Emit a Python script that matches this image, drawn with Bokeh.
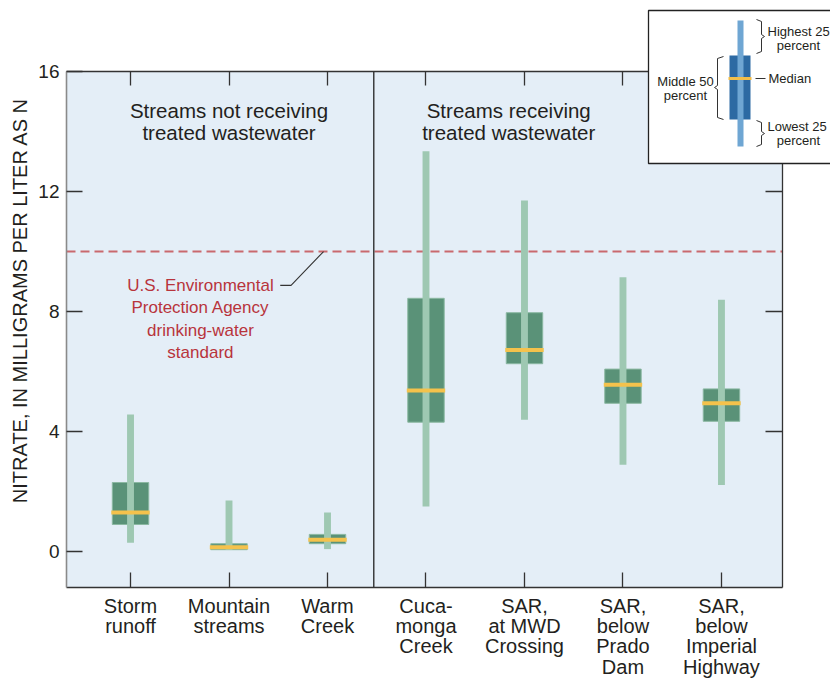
import numpy as np
from bokeh.plotting import figure
from bokeh.models import (ColumnDataSource, FixedTicker, LinearAxis, Label,
                          BoxAnnotation, Arrow, Range1d)
from bokeh.embed import file_html
from bokeh.resources import INLINE

# ---------------- data ----------------
categories = ["Storm\nrunoff", "Mountain\nstreams", "Warm\nCreek",
              "Cuca-\nmonga\nCreek", "SAR,\nat MWD\nCrossing",
              "SAR,\nbelow\nPrado\nDam", "SAR,\nbelow\nImperial\nHighway"]
x_pos = [1, 2, 3, 4, 5, 6, 7]
whisker_low = [0.29, 0.05, 0.08, 1.50, 4.39, 2.89, 2.22]
q1 = [0.90, 0.06, 0.26, 4.31, 6.26, 4.94, 4.34]
median = [1.30, 0.14, 0.39, 5.37, 6.72, 5.56, 4.94]
q3 = [2.30, 0.26, 0.57, 8.44, 7.96, 6.08, 5.42]
whisker_high = [4.57, 1.70, 1.30, 13.34, 11.70, 9.14, 8.39]
y_ticks = [0, 4, 8, 12, 16]
right_ticks = [4, 8, 12]
standard_value = 10
group_titles = [["Streams not receiving", "treated wastewater"],
                ["Streams receiving", "treated wastewater"]]
standard_text = ["U.S. Environmental", "Protection Agency", "drinking-water", "standard"]
y_label = "NITRATE, IN MILLIGRAMS PER LITER AS N"

# ---------------- layout (data units of the plot box) ----------------
X0, X1 = 0.35, 7.62      # plot box left / right
Y0, Y1 = -1.2, 16.0      # plot box bottom / top
divider_x = 3.47
group_title_x = [2.0, 4.84]
W, H = 830, 683

# ---------------- style ----------------
BG = "#E4EEF7"
BOX = "#5A9278"
BOX_EDGE = "#8BB8A2"
WHISK = "#9EC8B2"
MED = "#F4C24C"
RED = "#C9696E"
RED_TXT = "#B8343C"
INK = "#231F20"
FONT = "Liberation Sans"


def sx(px):
    return px


def sy(py):
    return H - py


p = figure(width=W, height=H, x_range=Range1d(-0.3201, 8.107), y_range=Range1d(-4.4, 18.367),
           x_axis_type=None, y_axis_type=None, output_backend="svg", toolbar_location=None,
           min_border=0)
p.background_fill_color = "white"
p.border_fill_color = "white"
p.outline_line_color = None

# plot box background
p.add_layout(BoxAnnotation(left=X0, right=X1, bottom=Y0, top=Y1, fill_color=BG, fill_alpha=1,
                           line_color=None, level="underlay"))

# axes drawn at the plot-box edges (ticks inside)
bottom = LinearAxis(ticker=FixedTicker(ticks=x_pos),
                    major_label_overrides={x: c for x, c in zip(x_pos, categories)})
top = LinearAxis(ticker=FixedTicker(ticks=x_pos), major_label_overrides={x: "" for x in x_pos})
left = LinearAxis(ticker=FixedTicker(ticks=y_ticks))
right = LinearAxis(ticker=FixedTicker(ticks=right_ticks),
                   major_label_overrides={t: "" for t in right_ticks})
bottom.fixed_location = Y0
top.fixed_location = Y1
left.fixed_location = X0
right.fixed_location = X1
for ax in (bottom, top):
    ax.bounds = (X0, X1)
for ax in (left, right):
    ax.bounds = (Y0, Y1)
for ax, tin in ((bottom, 15), (top, 14), (left, 16), (right, 17)):
    ax.major_tick_in = tin
    ax.major_tick_out = 0
    ax.minor_tick_line_color = None
    ax.axis_line_color = "#333333"
    ax.axis_line_width = 1.3
    ax.major_tick_line_color = "#333333"
    ax.major_tick_line_width = 1.3
    ax.major_label_text_font = FONT
    ax.major_label_text_color = INK
left.axis_line_color = "#8a8a8a"
left.axis_line_width = 1.6
left.major_label_text_font_size = "19px"
left.major_label_standoff = 7
bottom.major_label_text_font_size = "20px"
bottom.major_label_text_line_height = 0.93
bottom.major_label_standoff = 7
for ax in (top, right):
    ax.major_label_text_font_size = "1px"
    ax.major_label_standoff = 0
p.add_layout(bottom, "below")
p.add_layout(top, "above")
p.add_layout(left, "left")
p.add_layout(right, "right")

# reference lines
p.segment(x0=[X0], y0=[standard_value], x1=[X1], y1=[standard_value], line_color=RED,
          line_width=2, line_dash="9 5")
p.segment(x0=[divider_x], y0=[Y0], x1=[divider_x], y1=[Y1], line_color="#222222", line_width=1.3)

# boxes
src = ColumnDataSource(dict(x=x_pos, lo=whisker_low, q1=q1, med=median, q3=q3, hi=whisker_high))
p.vbar(x="x", bottom="q1", top="q3", width=0.37, source=src,
       fill_color=BOX, line_color=BOX_EDGE, line_width=1)
p.vbar(x="x", bottom="lo", top="hi", width=0.07, source=src,
       fill_color=WHISK, line_color=None)
p.rect(x="x", y="med", width=0.39, height=4, height_units="screen", source=src,
       fill_color=MED, line_color=None)

# leader line for standard annotation
p.line(x=[2.52, 2.63, 2.96], y=[8.87, 8.87, standard_value], line_color="#333333", line_width=1.1)

# texts in plot
for gx, lines in zip(group_title_x, group_titles):
    for i, t in enumerate(lines):
        p.add_layout(Label(x=gx, y=14.7 - i * 0.73, text=t, text_align="center",
                           text_baseline="middle", text_font=FONT, text_font_size="20.5px",
                           text_color=INK))
for i, t in enumerate(standard_text):
    p.add_layout(Label(x=1.71, y=8.87 - i * 0.745, text=t, text_align="center",
                       text_baseline="middle", text_font=FONT, text_font_size="17px",
                       text_color=RED_TXT))

# y axis title
p.add_layout(Label(x=sx(19), y=sy(300), x_units="screen", y_units="screen", text=y_label,
                   angle=np.pi / 2, text_align="center", text_baseline="middle",
                   text_font=FONT, text_font_size="20px", text_color=INK))


# ---------------- legend key (screen units) ----------------
def box(l, r, t, b, fill, line=None, lw=1.0):
    p.add_layout(BoxAnnotation(left=sx(l), right=sx(r), top=sy(t), bottom=sy(b),
                               left_units="screen", right_units="screen",
                               top_units="screen", bottom_units="screen",
                               fill_color=fill, fill_alpha=1.0, line_color=line,
                               line_width=lw, line_alpha=1.0, level="overlay"))


def seg(x0, y0, x1, y1):
    p.add_layout(Arrow(x_start=sx(x0), y_start=sy(y0), x_end=sx(x1), y_end=sy(y1),
                       start_units="screen", end_units="screen", end=None, start=None,
                       line_color="#333333", line_width=1.0, level="overlay"))


def bracket(outer, inner, tip, top_y, bot_y, mid_y):
    pts = [(outer, top_y), (inner, top_y + 2), (inner, mid_y - 2), (tip, mid_y),
           (inner, mid_y + 2), (inner, bot_y - 2), (outer, bot_y)]
    for (a, b), (c, d) in zip(pts[:-1], pts[1:]):
        seg(a, b, c, d)


def ltext(x, y, t, align="center"):
    p.add_layout(Label(x=sx(x), y=sy(y), x_units="screen", y_units="screen", text=t,
                       text_align=align, text_baseline="middle", text_font=FONT,
                       text_font_size="13px", text_color=INK, level="overlay"))


box(648, 900, 10, 163, "white", "#222222", 1.3)
box(729, 750, 55, 119, "#2D6AA3")
box(737, 743, 20, 146, "#6FA6D3")
box(728, 751, 76.5, 79.5, "#F2BE4A")
bracket(756, 761, 764, 19, 53, 36)
bracket(723, 717, 714, 56, 119, 87)
bracket(756, 761, 764, 120, 146, 133)
seg(755, 78, 765, 78)
ltext(767, 31, "Highest 25", "left")
ltext(798, 45, "percent")
ltext(685, 81, "Middle 50")
ltext(685, 95, "percent")
ltext(768, 78, "Median", "left")
ltext(767, 126, "Lowest 25", "left")
ltext(798, 140, "percent")

open("out.html", "w").write(file_html(p, INLINE))
